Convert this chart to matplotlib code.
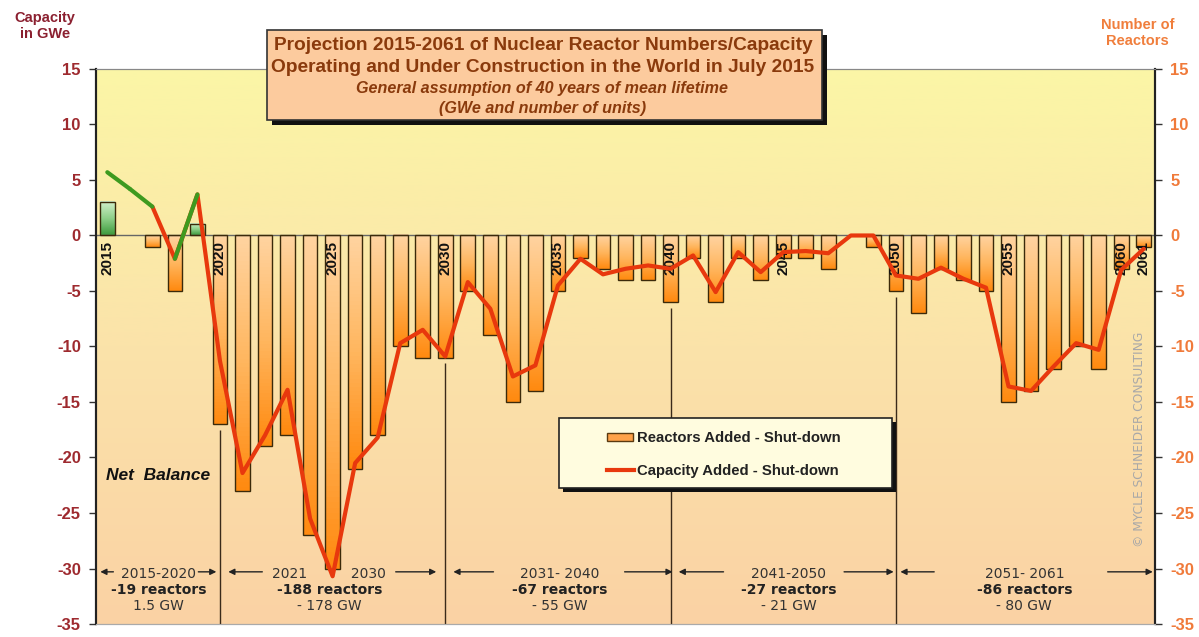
import numpy as np
import matplotlib
matplotlib.use("Agg")
import matplotlib.pyplot as plt
from matplotlib.colors import LinearSegmentedColormap
from matplotlib.patches import Rectangle
from matplotlib.lines import Line2D

plt.rcParams['font.family'] = ['Liberation Sans', 'DejaVu Sans']
plt.rcParams['axes.unicode_minus'] = False

# данные: годы, баланс реакторов (ед.), баланс мощности (ГВт)
years = list(range(2015, 2062))
reactors = [3, 0, -1, -5, 1, -17,
            -23, -19, -18, -27, -30, -21, -18, -10, -11, -11,
            -5, -9, -15, -14, -5, -2, -3, -4, -4, -6,
            -2, -6, -2, -4, -2, -2, -3, 0, -1, -5,
            -7, -3, -4, -5, -15, -14, -12, -10, -12, -3, -1]
capacity = [5.7, 4.2, 2.6, -2.1, 3.7, -11.3,
            -21.4, -18.0, -13.9, -25.5, -30.7, -20.5, -18.2, -9.7, -8.5, -10.9,
            -4.2, -6.6, -12.7, -11.7, -4.5, -2.1, -3.5, -3.0, -2.7, -3.0,
            -1.8, -5.1, -1.5, -3.3, -1.5, -1.4, -1.6, 0.0, 0.0, -3.6,
            -3.9, -2.9, -3.9, -4.7, -13.6, -14.0, -11.8, -9.7, -10.3, -3.1, -1.2]
green_segments = [2015, 2016, 2018]  # начало зелёных отрезков линии
year_labels = [2015, 2020, 2025, 2030, 2035, 2040, 2045, 2050, 2055, 2060, 2061]
divider_years = [2020, 2030, 2040, 2050]

periods = ["2015-2020", "2021          2030", "2031- 2040", "2041-2050", "2051- 2061"]
period_reactors = ["-19 reactors", "-188 reactors", "-67 reactors", "-27 reactors", "-86 reactors"]
period_gw = ["1.5 GW", "- 178 GW", "- 55 GW", "- 21 GW", "- 80 GW"]
period_x = [2.27, 9.85, 20.07, 30.24, 40.7]
arrows = [((0.27, -0.31), (4.04, 4.84)),
          ((6.88, 5.37), (12.8, 14.6)),
          ((17.14, 15.36), (22.96, 25.09)),
          ((27.35, 25.36), (32.7, 34.9)),
          ((36.7, 35.2), (44.4, 46.4))]

x = np.arange(len(years))

fig = plt.figure(figsize=(11.99, 6.37), dpi=100)
ax = fig.add_axes([0.0801, 0.0204, 0.8832, 0.8713])

# фон с градиентом
bg_cmap = LinearSegmentedColormap.from_list("bg", ["#FAD2A4", "#FBE3AA", "#FBF6A6"])
ax.imshow(np.linspace(0, 1, 200).reshape(-1, 1), extent=[-0.5, 46.5, -35, 15],
          aspect='auto', origin='lower', cmap=bg_cmap, zorder=0)

# столбцы с градиентом
orange_cmap = LinearSegmentedColormap.from_list("or", ["#FF8A10", "#FFB65E", "#FFD3A0"])
green_cmap = LinearSegmentedColormap.from_list("gr", ["#3E9B3E", "#8FD08A", "#D2F0CC"])
w = 0.65
nz = [i for i, v in enumerate(reactors) if v != 0]
for i in nz:
    v = reactors[i]
    cm = green_cmap if v > 0 else orange_cmap
    ax.imshow(np.linspace(0, 1, 60).reshape(-1, 1),
              extent=[x[i] - w / 2, x[i] + w / 2, min(0, v), max(0, v)],
              aspect='auto', origin='lower', cmap=cm, zorder=2)
ax.bar(x[nz], [reactors[i] for i in nz], width=w, facecolor='none',
       edgecolor='#3B2A0A', lw=1, zorder=3)

ax.axhline(0, color='#666666', lw=1, zorder=2.5)

# подписи лет внутри столбцов
for yr in year_labels:
    ax.text(years.index(yr), -0.5, str(yr), rotation=90, ha='center', va='top',
            fontsize=11, fontweight='bold', color='#111111', zorder=4)

# разделители периодов
for yr in divider_years:
    i = years.index(yr)
    ax.vlines(i, -35, reactors[i] - 0.5, color='#3A2A1A', lw=1, zorder=4)

# линия мощности
start = years.index(2017)
ax.plot(x[start:], capacity[start:], color='#E8380D', lw=3, zorder=5,
        solid_joinstyle='round', solid_capstyle='round')
for yr in green_segments:
    i = years.index(yr)
    ax.plot(x[i:i + 2], capacity[i:i + 2], color='#3E9A1F', lw=3, zorder=6,
            solid_capstyle='round')

# периоды внизу
for px, p, r, g, (la, ra) in zip(period_x, periods, period_reactors, period_gw, arrows):
    ax.text(px, -30.5, p, ha='center', va='center', fontsize=10,
            family='DejaVu Sans', color='#333333', zorder=6)
    ax.text(px, -31.95, r, ha='center', va='center', fontsize=10, fontweight='bold',
            family='DejaVu Sans', color='#222222', zorder=6)
    ax.text(px, -33.35, g, ha='center', va='center', fontsize=10,
            family='DejaVu Sans', color='#333333', zorder=6)
    for tail, head in (la, ra):
        ax.annotate('', xy=(head, -30.3), xytext=(tail, -30.3),
                    arrowprops=dict(arrowstyle='-|>', color='#222222', lw=1,
                                    mutation_scale=9, shrinkA=0, shrinkB=0), zorder=6)

ax.text(-0.05, -21.65, "Net  Balance", ha='left', va='center', fontsize=12.5,
        fontweight='bold', fontstyle='italic', color='#111111', zorder=6)
ax.text(45.8, -18.4, "© MYCLE SCHNEIDER CONSULTING", rotation=90, ha='center',
        va='center', fontsize=8.8, color='#A8A8A8', family='DejaVu Sans', zorder=6)

ax.set_xlim(-0.5, 46.5)
ax.set_ylim(-35, 15)
ax.set_yticks(range(-35, 16, 5))
ax.tick_params(axis='x', bottom=False, labelbottom=False)
ax.tick_params(axis='y', direction='out', length=5, width=1, color='#333333',
               labelsize=12, labelcolor='#9E2A2F', pad=6)
for lab in ax.get_yticklabels():
    lab.set_fontweight('bold')

ax2 = ax.twinx()
ax2.set_ylim(-35, 15)
ax2.set_yticks(range(-35, 16, 5))
ax2.tick_params(axis='y', direction='out', length=5, width=1, color='#333333',
                labelsize=12, labelcolor='#F07A3A', pad=6)
for lab in ax2.get_yticklabels():
    lab.set_fontweight('bold')

for a in (ax, ax2):
    a.spines['top'].set_color('#888888')
    a.spines['bottom'].set_color('#AAAAAA')
    a.spines['left'].set_color('#222222')
    a.spines['right'].set_color('#222222')
    a.spines['left'].set_linewidth(1.5)
    a.spines['right'].set_linewidth(1.5)

W, H = 1199, 637

# подписи осей
fig.text(0.0375, 1 - 26 / H, "Capacity\nin GWe", ha='center', va='center', fontsize=10.5,
         fontweight='bold', color='#8B2030', linespacing=1.15)
fig.text(0.949, 1 - 33 / H, "Number of\nReactors", ha='center', va='center', fontsize=10.5,
         fontweight='bold', color='#F07E3C', linespacing=1.15)

# заголовок в рамке
fig.patches.append(Rectangle((272 / W, 1 - 125 / H), 555 / W, 90 / H,
                             transform=fig.transFigure, facecolor='#111111', zorder=1))
fig.patches.append(Rectangle((267 / W, 1 - 120 / H), 555 / W, 90 / H,
                             transform=fig.transFigure, facecolor='#FCCB9E',
                             edgecolor='#333333', lw=1.2, zorder=1.1))
title_c = '#8A3A0C'
fig.text(543 / W, 1 - 45 / H, "Projection 2015-2061 of Nuclear Reactor Numbers/Capacity",
         ha='center', va='center', fontsize=13.8, fontweight='bold', color=title_c)
fig.text(543 / W, 1 - 67 / H, "Operating and Under Construction in the World in July 2015",
         ha='center', va='center', fontsize=13.8, fontweight='bold', color=title_c)
fig.text(542 / W, 1 - 89 / H, "General assumption of 40 years of mean lifetime",
         ha='center', va='center', fontsize=11.6, fontweight='bold', fontstyle='italic',
         color=title_c)
fig.text(543 / W, 1 - 108 / H, "(GWe and number of units)",
         ha='center', va='center', fontsize=11.6, fontweight='bold', fontstyle='italic',
         color=title_c)

# легенда
fig.patches.append(Rectangle((563 / W, 1 - 492 / H), 333 / W, 70 / H,
                             transform=fig.transFigure, facecolor='#111111', zorder=1))
fig.patches.append(Rectangle((559 / W, 1 - 488 / H), 333 / W, 70 / H,
                             transform=fig.transFigure, facecolor='#FFFCDF',
                             edgecolor='#222222', lw=1.2, zorder=1.1))
fig.patches.append(Rectangle((607 / W, 1 - 441 / H), 26 / W, 8 / H,
                             transform=fig.transFigure, facecolor='#FFA24A',
                             edgecolor='#5A3A10', lw=1, zorder=1.2))
fig.lines.append(Line2D([607 / W, 634 / W], [1 - 470 / H, 1 - 470 / H],
                        transform=fig.transFigure, color='#E8380D', lw=3))
fig.text(637 / W, 1 - 438 / H, "Reactors Added - Shut-down", ha='left', va='center',
         fontsize=10.7, fontweight='bold', color='#222222')
fig.text(637 / W, 1 - 471 / H, "Capacity Added - Shut-down", ha='left', va='center',
         fontsize=10.7, fontweight='bold', color='#222222')

fig.savefig("out.png", dpi=100, facecolor='white')
